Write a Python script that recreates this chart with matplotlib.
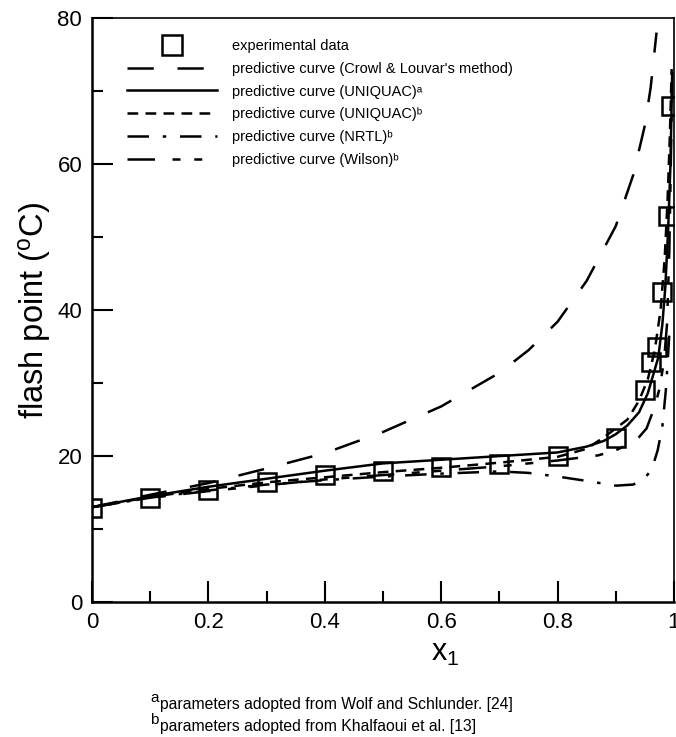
import numpy as np
import matplotlib
matplotlib.use('Agg')
import matplotlib.pyplot as plt

plt.rcParams['font.family'] = ['Liberation Sans', 'DejaVu Sans']
plt.rcParams['mathtext.fontset'] = 'custom'
plt.rcParams['mathtext.rm'] = 'Liberation Sans'
plt.rcParams['mathtext.it'] = 'Liberation Sans:italic'

# experimental data
x_exp = [0, 0.1, 0.2, 0.3, 0.4, 0.5, 0.6, 0.7, 0.8, 0.9, 0.95, 0.96, 0.97, 0.98, 0.99, 0.995]
y_exp = [12.9, 14.3, 15.4, 16.5, 17.4, 18.0, 18.45, 18.9, 20.0, 22.5, 29.0, 32.9, 35.0, 42.5, 52.9, 67.9]

# Crowl & Louvar's method
x_cl = [0, 0.1, 0.2, 0.3, 0.4, 0.5, 0.6, 0.7, 0.75, 0.8, 0.85, 0.9, 0.93, 0.95, 0.96, 0.97]
y_cl = [13.0, 14.7, 16.3, 18.3, 20.4, 23.3, 26.8, 31.4, 34.5, 38.4, 44.0, 51.5, 58.5, 65.3, 70.5, 78.0]

# UNIQUAC (a)
x_ua = [0, 0.1, 0.2, 0.3, 0.4, 0.5, 0.6, 0.7, 0.8, 0.85, 0.88, 0.9, 0.92, 0.94, 0.955,
        0.965, 0.973, 0.98, 0.985, 0.99, 0.994, 0.997]
y_ua = [13.0, 14.5, 15.8, 16.9, 18.0, 19.0, 19.5, 20.0, 20.5, 21.3, 22.1, 23.0, 24.2, 26.0, 28.6,
        31.3, 33.5, 38.0, 43.0, 51.0, 60.0, 72.5]

# UNIQUAC (b)
x_ub = [0, 0.1, 0.2, 0.3, 0.4, 0.5, 0.6, 0.7, 0.8, 0.85, 0.88, 0.92, 0.94, 0.955, 0.967,
        0.977, 0.984, 0.989, 0.993, 0.996]
y_ub = [13.0, 14.4, 15.5, 16.4, 17.1, 17.8, 18.4, 19.1, 19.9, 21.0, 22.6, 25.0, 27.6, 30.5, 34.5,
        40.0, 47.0, 55.0, 64.0, 73.0]

# NRTL (b)
x_nr = [0, 0.1, 0.2, 0.3, 0.4, 0.5, 0.6, 0.7, 0.75, 0.8, 0.85, 0.9, 0.93, 0.95, 0.962,
        0.972, 0.98, 0.986, 0.99, 0.993]
y_nr = [13.0, 14.3, 15.3, 16.1, 16.7, 17.2, 17.6, 17.9, 17.7, 17.2, 16.6, 15.95, 16.1, 17.0, 18.2,
        20.8, 24.0, 29.0, 34.0, 38.0]

# Wilson (b)
x_wi = [0, 0.1, 0.2, 0.3, 0.4, 0.5, 0.6, 0.7, 0.8, 0.87, 0.9, 0.924, 0.94, 0.953, 0.967,
        0.976, 0.983, 0.988, 0.992, 0.995, 0.997]
y_wi = [13.0, 14.3, 15.2, 16.0, 16.8, 17.4, 18.0, 18.6, 19.4, 20.1, 20.8, 21.7, 22.6, 23.8, 26.8,
        29.5, 33.2, 38.0, 48.0, 62.0, 72.5]

labels = ['experimental data',
          "predictive curve (Crowl & Louvar's method)",
          'predictive curve (UNIQUAC)\u1d43',
          'predictive curve (UNIQUAC)\u1d47',
          'predictive curve (NRTL)\u1d47',
          'predictive curve (Wilson)\u1d47']

fig = plt.figure(figsize=(6.76, 7.37), dpi=100)
ax = fig.add_axes([0.136, 0.183, 0.861, 0.7926])

lw = 1.8
ax.plot(x_exp, y_exp, 's', ms=12.5, mfc='none', mec='black', mew=1.8, label=labels[0], zorder=5)
ax.plot(x_cl, y_cl, color='black', lw=lw, ls=(0, (10.5, 9.5)), label=labels[1])
ax.plot(x_ua, y_ua, color='black', lw=lw, ls='-', label=labels[2])
ax.plot(x_ub, y_ub, color='black', lw=lw, ls=(0, (4.3, 2.9)), label=labels[3])
ax.plot(x_nr, y_nr, color='black', lw=lw, ls=(0, (8.6, 5.5, 1.4, 5.5)), label=labels[4])
ax.plot(x_wi, y_wi, color='black', lw=lw, ls=(0, (11, 7, 3.2, 5.5, 3.2, 7)), label=labels[5])

ax.set_xlim(0, 1)
ax.set_ylim(0, 80)
ax.set_xticks(np.arange(0, 1.01, 0.2))
ax.set_xticklabels(['0', '0.2', '0.4', '0.6', '0.8', '1'])
ax.set_xticks(np.arange(0.1, 1.0, 0.2), minor=True)
ax.set_yticks(np.arange(0, 81, 20))
ax.set_yticks(np.arange(10, 80, 20), minor=True)
ax.tick_params(which='both', direction='in', top=False, right=False, width=1.5, labelsize=16, pad=7)
ax.tick_params(which='major', length=15)
ax.tick_params(which='minor', length=8)

for s in ['left', 'bottom']:
    ax.spines[s].set_linewidth(1.8)
for s in ['top', 'right']:
    ax.spines[s].set_linewidth(1.2)

ax.set_xlabel(r'x$_{\rm 1}$', fontsize=22)
ax.xaxis.set_label_coords(0.607, -0.062)
ax.set_ylabel(r'flash point ($^{\rm o}$C)', fontsize=23.5, labelpad=3)

leg = ax.legend(loc='upper left', bbox_to_anchor=(0.06, 0.964), frameon=False,
                fontsize=10.5, handlelength=6.2, handletextpad=1.0, labelspacing=0.6,
                borderaxespad=0, borderpad=0, markerscale=1.2)

fig.text(0.222, 0.048, 'a', fontsize=11)
fig.text(0.237, 0.038, 'parameters adopted from Wolf and Schlunder. [24]', fontsize=11.3)
fig.text(0.222, 0.018, 'b', fontsize=11)
fig.text(0.237, 0.008, 'parameters adopted from Khalfaoui et al. [13]', fontsize=11.3)

fig.savefig('out.png', dpi=100)
